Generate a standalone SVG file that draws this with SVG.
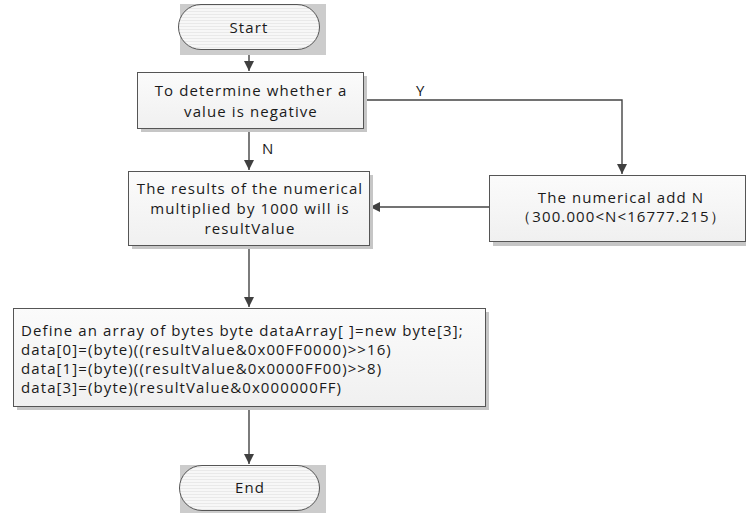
<svg xmlns="http://www.w3.org/2000/svg" width="746" height="513" viewBox="0 0 746 513">
<defs>
<linearGradient id="bf" x1="0" y1="0" x2="0" y2="1">
<stop offset="0" stop-color="#fbfbfb"/>
<stop offset="1" stop-color="#f0f0f0"/>
</linearGradient>
<pattern id="stripe" width="8" height="3" patternUnits="userSpaceOnUse">
<rect width="8" height="3" fill="#f7f7f7"/>
<rect y="2" width="8" height="1" fill="#e9e9e9"/>
</pattern>
<marker id="ah" markerWidth="12" markerHeight="12" refX="10" refY="5" orient="auto" markerUnits="userSpaceOnUse">
<path d="M0,0 L10,5 L0,10 Z" fill="#404040"/>
</marker>
</defs>
<style>
.box{fill:url(#bf);stroke:#555;stroke-width:1}
.sh{fill:#c6c6c6}
.term{fill:url(#stripe);stroke:#555;stroke-width:1}
.tbg{fill:#cccccc}
.t{font-family:"Open Sans","Noto Sans",sans-serif;font-size:15px;letter-spacing:1.1px;fill:#1a1a1a}
.c{text-anchor:middle}
.ln{fill:none;stroke:#444;stroke-width:1.4}
</style>
<rect width="746" height="513" fill="#ffffff"/>
<g id="connectors">
<line class="ln" x1="249" y1="50" x2="249" y2="71" marker-end="url(#ah)"/>
<line class="ln" x1="249" y1="128" x2="249" y2="170" marker-end="url(#ah)"/>
<text class="t" x="262" y="154">N</text>
<polyline class="ln" points="363,100 622,100 622,174" marker-end="url(#ah)"/>
<text class="t" x="416" y="96">Y</text>
<line class="ln" x1="489" y1="207" x2="370" y2="207" marker-end="url(#ah)"/>
<line class="ln" x1="249" y1="245" x2="249" y2="307" marker-end="url(#ah)"/>
<line class="ln" x1="249" y1="406" x2="249" y2="464" marker-end="url(#ah)"/>
</g>
<g id="start">
<rect class="tbg" x="180" y="4" width="146" height="51"/>
<rect class="term" x="178.5" y="4.5" width="141" height="45" rx="22.5" ry="22.5"/>
<text class="t c" x="249" y="33">Start</text>
</g>
<g id="decision">
<rect class="sh" x="141" y="76" width="226" height="56"/>
<rect class="box" x="137.5" y="72.5" width="226" height="56"/>
<text class="t c" x="251" y="96">To determine whether a</text>
<text class="t c" x="251" y="117">value is negative</text>
</g>
<g id="multiply">
<rect class="sh" x="132" y="175" width="241" height="74"/>
<rect class="box" x="128.5" y="171.5" width="241" height="74"/>
<text class="t c" x="250" y="194">The results of the numerical</text>
<text class="t c" x="250" y="214">multiplied by 1000 will is</text>
<text class="t c" x="250" y="234">resultValue</text>
</g>
<g id="add">
<rect class="sh" x="493" y="179" width="253" height="67"/>
<rect class="box" x="489.5" y="175.5" width="256" height="66"/>
<text class="t c" x="621" y="203">The numerical add N</text>
<text class="t c" x="621" y="222">（300.000&lt;N&lt;16777.215）</text>
</g>
<g id="define">
<rect class="sh" x="17" y="312" width="472" height="98"/>
<rect class="box" x="13.5" y="308.5" width="472" height="98"/>
<text class="t" x="21" y="336">Define an array of bytes byte dataArray[ ]=new byte[3];</text>
<text class="t" x="21" y="355">data[0]=(byte)((resultValue&amp;0x00FF0000)&gt;&gt;16)</text>
<text class="t" x="21" y="374">data[1]=(byte)((resultValue&amp;0x0000FF00)&gt;&gt;8)</text>
<text class="t" x="21" y="393">data[3]=(byte)(resultValue&amp;0x000000FF)</text>
</g>
<g id="end">
<rect class="tbg" x="180" y="465" width="146" height="48"/>
<rect class="term" x="179.5" y="465.5" width="140" height="45" rx="22.5" ry="22.5"/>
<text class="t c" x="250" y="493">End</text>
</g>
</svg>
